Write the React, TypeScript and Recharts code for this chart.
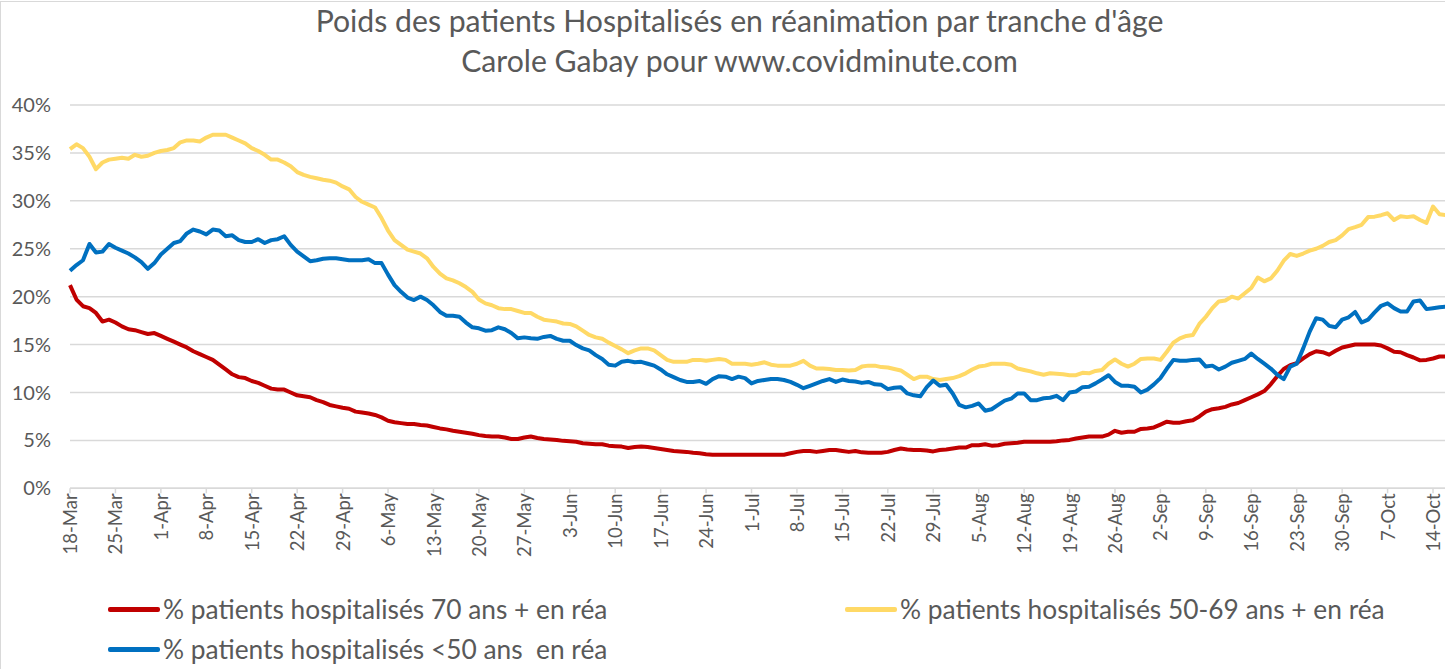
import React from 'react';
import { LineChart, Line, XAxis, YAxis, CartesianGrid, Legend } from 'recharts';

const MONTHS = ['Jan', 'Feb', 'Mar', 'Apr', 'May', 'Jun', 'Jul', 'Aug', 'Sep', 'Oct', 'Nov', 'Dec'];
const DAY_COUNT = 213; // 18-Mar .. 16-Oct

function makeDateLabels(): string[] {
  const out: string[] = [];
  const start = Date.UTC(2020, 2, 18);
  for (let i = 0; i < DAY_COUNT; i++) {
    const d = new Date(start + i * 86400000);
    out.push(`${d.getUTCDate()}-${MONTHS[d.getUTCMonth()]}`);
  }
  return out;
}
const dates = makeDateLabels();

const yTicks = [0, 5, 10, 15, 20, 25, 30, 35, 40];

const seriesNames = [
  '% patients hospitalisés 70 ans + en réa',
  '% patients hospitalisés 50-69 ans + en réa',
  '% patients hospitalisés <50 ans  en réa',
];

// % des patients en réa, 70 ans et +
const share70plus = [
  21.2, 19.7, 19.0, 18.8, 18.3, 17.4, 17.6, 17.3, 16.9, 16.6, 16.5, 16.3, 16.1, 16.2, 15.9, 15.6, 15.3, 15.0, 14.7, 14.3,
  14.0, 13.7, 13.4, 12.9, 12.4, 11.9, 11.6, 11.5, 11.2, 11.0, 10.7, 10.4, 10.3, 10.3, 10.0, 9.7,
  9.6, 9.5, 9.2, 9.0, 8.7, 8.55, 8.4, 8.3, 8.0, 7.9, 7.8, 7.65, 7.4, 7.05, 6.9, 6.8, 6.7, 6.7, 6.6, 6.55,
  6.4, 6.25, 6.15, 6.0, 5.9, 5.8, 5.7, 5.55, 5.45, 5.4, 5.4, 5.3, 5.15, 5.15, 5.3,
  5.4, 5.25, 5.15, 5.1, 5.05, 4.95, 4.9, 4.85, 4.7, 4.65, 4.6, 4.6, 4.45, 4.4, 4.35, 4.2, 4.3, 4.35, 4.3, 4.2,
  4.1, 4.0, 3.9, 3.85, 3.8, 3.7, 3.65, 3.55, 3.5, 3.5, 3.5, 3.5, 3.5, 3.5, 3.5, 3.5,
  3.5, 3.5, 3.5, 3.5, 3.65, 3.8, 3.9, 3.9, 3.8, 3.9, 4.0, 4.0, 3.9, 3.8, 3.9, 3.75, 3.7, 3.7, 3.7, 3.8,
  4.0, 4.15, 4.05, 4.0, 4.0, 3.95, 3.85, 4.0, 4.05, 4.15, 4.25, 4.25, 4.5, 4.5, 4.6,
  4.45, 4.5, 4.65, 4.7, 4.75, 4.85, 4.85, 4.85, 4.85, 4.85, 4.9, 5.0, 5.05, 5.2, 5.3, 5.4, 5.4, 5.4, 5.6, 6.0,
  5.8, 5.9, 5.9, 6.2, 6.25, 6.35, 6.65, 6.95, 6.85, 6.85, 7.0, 7.1, 7.5, 8.0, 8.25, 8.35,
  8.5, 8.75, 8.9, 9.2, 9.5, 9.8, 10.15, 10.85, 11.7, 12.45, 12.85, 13.05, 13.55, 14.0, 14.3, 14.2, 13.95, 14.35,
  14.7, 14.85, 15.0, 15.0, 15.0, 15.0, 14.9, 14.6, 14.25, 14.2, 13.9, 13.65, 13.35, 13.4, 13.55, 13.75, 13.75,
];

// % des patients en réa, 50-69 ans
const share50to69 = [
  35.4, 35.9, 35.5, 34.6, 33.3, 34.0, 34.3, 34.4, 34.5, 34.4, 34.8, 34.6, 34.7, 35.0, 35.2, 35.3, 35.5, 36.1, 36.3, 36.3,
  36.2, 36.6, 36.9, 36.9, 36.9, 36.6, 36.3, 36.0, 35.5, 35.2, 34.8, 34.3, 34.3, 34.0, 33.6, 33.0,
  32.7, 32.5, 32.35, 32.2, 32.1, 31.9, 31.5, 31.2, 30.4, 29.9, 29.6, 29.3, 28.2, 26.9, 25.9, 25.4, 24.9, 24.7, 24.5, 24.0,
  23.1, 22.4, 21.9, 21.7, 21.4, 21.0, 20.5, 19.7, 19.3, 19.1, 18.8, 18.7, 18.7, 18.5, 18.3,
  18.3, 17.9, 17.6, 17.5, 17.4, 17.2, 17.15, 16.9, 16.45, 16.0, 15.75, 15.6, 15.2, 14.85, 14.5, 14.1, 14.4, 14.6, 14.6, 14.4,
  13.9, 13.4, 13.2, 13.2, 13.2, 13.4, 13.4, 13.3, 13.4, 13.5, 13.4, 13.0, 13.0, 13.0, 12.9, 13.0,
  13.15, 12.9, 12.8, 12.8, 12.8, 13.0, 13.3, 12.8, 12.5, 12.5, 12.45, 12.35, 12.35, 12.3, 12.35, 12.7, 12.8, 12.8, 12.65, 12.6,
  12.45, 12.3, 11.85, 11.4, 11.65, 11.65, 11.4, 11.3, 11.4, 11.5, 11.7, 12.0, 12.4, 12.7, 12.8,
  13.0, 13.0, 13.0, 12.9, 12.5, 12.35, 12.2, 12.0, 11.85, 12.0, 11.95, 11.9, 11.8, 11.8, 12.05, 12.0, 12.25, 12.35, 13.0, 13.45,
  13.0, 12.7, 13.0, 13.5, 13.55, 13.55, 13.4, 14.25, 15.2, 15.65, 15.9, 16.0, 17.15, 17.9, 18.8, 19.5,
  19.6, 20.0, 19.8, 20.35, 20.9, 22.0, 21.6, 21.9, 22.7, 23.75, 24.45, 24.25, 24.5, 24.8, 25.0, 25.3, 25.7, 25.9,
  26.4, 27.05, 27.25, 27.5, 28.3, 28.35, 28.5, 28.7, 28.0, 28.4, 28.3, 28.4, 28.0, 27.7, 29.4, 28.6, 28.5,
];

// % des patients en réa, moins de 50 ans
const shareUnder50 = [
  22.7, 23.3, 23.8, 25.5, 24.6, 24.7, 25.5, 25.1, 24.8, 24.5, 24.1, 23.6, 22.9, 23.5, 24.4, 25.0, 25.6, 25.8, 26.6, 27.0,
  26.8, 26.5, 27.0, 26.9, 26.3, 26.4, 25.9, 25.7, 25.7, 26.0, 25.6, 25.9, 26.0, 26.3, 25.4, 24.7,
  24.2, 23.7, 23.8, 23.95, 24.0, 24.0, 23.9, 23.8, 23.8, 23.8, 23.9, 23.5, 23.5, 22.3, 21.2, 20.5, 19.9, 19.65, 20.0, 19.65,
  19.1, 18.4, 18.0, 18.0, 17.9, 17.3, 16.8, 16.7, 16.45, 16.5, 16.8, 16.6, 16.2, 15.65, 15.75,
  15.65, 15.6, 15.8, 15.9, 15.6, 15.4, 15.4, 14.95, 14.6, 14.4, 13.9, 13.5, 12.9, 12.8, 13.2, 13.3, 13.15, 13.2, 13.0, 12.8,
  12.4, 11.9, 11.6, 11.3, 11.1, 11.1, 11.2, 10.9, 11.4, 11.7, 11.65, 11.4, 11.65, 11.5, 10.95, 11.2,
  11.3, 11.4, 11.4, 11.3, 11.1, 10.8, 10.45, 10.7, 10.95, 11.2, 11.4, 11.1, 11.35, 11.2, 11.15, 11.0, 11.1, 10.85, 10.8, 10.35,
  10.5, 10.55, 9.9, 9.7, 9.6, 10.55, 11.25, 10.7, 10.8, 9.9, 8.7, 8.45, 8.6, 8.85, 8.1,
  8.25, 8.7, 9.15, 9.35, 9.9, 9.9, 9.2, 9.2, 9.4, 9.45, 9.65, 9.2, 10.0, 10.1, 10.55, 10.6, 10.95, 11.35, 11.8, 11.1,
  10.7, 10.7, 10.6, 10.0, 10.3, 10.85, 11.5, 12.5, 13.4, 13.3, 13.3, 13.4, 13.45, 12.7, 12.8, 12.4,
  12.7, 13.1, 13.3, 13.5, 14.05, 13.5, 13.0, 12.5, 11.85, 11.4, 12.7, 13.0, 14.6, 16.35, 17.75, 17.6, 16.95, 16.8,
  17.6, 17.85, 18.4, 17.3, 17.6, 18.35, 19.05, 19.3, 18.8, 18.45, 18.45, 19.5, 19.6, 18.7, 18.8, 18.9, 18.95,
];

const data = dates.map((date, i) => ({
  date,
  r70: share70plus[i],
  r50: share50to69[i],
  r0: shareUnder50[i],
}));

const TEXT_COLOR = '#595959';
const GRID_COLOR = '#D9D9D9';

const DateTick = (props: any) => {
  const { x, y, payload } = props;
  return (
    <g transform={`translate(${x},${y})`}>
      <text
        transform="rotate(-90)"
        x={0}
        y={0}
        dy="0.38em"
        textAnchor="end"
        fill={TEXT_COLOR}
        fontSize={18.5}
        fontFamily="Lato, sans-serif"
      >
        {payload.value}
      </text>
    </g>
  );
};

const LEGEND_SLOTS: Record<string, { left: number; top: number }> = {
  r70: { left: 108, top: 24 },
  r50: { left: 845, top: 24 },
  r0: { left: 108, top: 64 },
};

const LegendBox = (props: any) => {
  const payload = props.payload || [];
  return (
    <div style={{ position: 'relative', width: 1445, height: 84 }}>
      {payload.map((item: any, i: number) => {
        const slot = LEGEND_SLOTS[String(item.dataKey)] || LEGEND_SLOTS.r70;
        return (
          <div
            key={i}
            style={{
              position: 'absolute',
              left: slot.left,
              top: slot.top - 18,
              height: 36,
              display: 'flex',
              alignItems: 'center',
              whiteSpace: 'pre',
            }}
          >
            <span style={{ display: 'inline-block', width: 52, height: 5, background: item.color, borderRadius: 2 }} />
            <span style={{ marginLeft: 3, fontSize: 26.3, color: TEXT_COLOR, fontFamily: 'Lato, sans-serif' }}>
              {item.value}
            </span>
          </div>
        );
      })}
    </div>
  );
};

export default function App() {
  return (
    <div
      style={{
        position: 'relative',
        width: 1445,
        height: 669,
        overflow: 'hidden',
        background: '#ffffff',
        fontFamily: 'Lato, sans-serif',
      }}
    >
      <style>{'body{margin:0;overflow:hidden;}'}</style>
      <div
        style={{
          position: 'absolute',
          left: 0,
          top: 1,
          width: 1445,
          height: 668,
          borderLeft: `1px solid ${GRID_COLOR}`,
          borderTop: `1px solid ${GRID_COLOR}`,
          boxSizing: 'border-box',
          pointerEvents: 'none',
        }}
      />
      <div
        style={{
          position: 'absolute',
          left: 0,
          top: 0,
          width: 1479,
          textAlign: 'center',
          color: TEXT_COLOR,
          fontSize: 30.2,
          lineHeight: '40px',
          zIndex: 2,
        }}
      >
        <div>Poids des patients Hospitalisés en réanimation par tranche d'âge</div>
        <div>Carole Gabay pour www.covidminute.com</div>
      </div>
      <LineChart
        width={1456}
        height={669}
        data={data}
        margin={{ top: 105, right: 10, bottom: 100.7, left: 0 }}
      >
        <CartesianGrid horizontal vertical={false} stroke={GRID_COLOR} strokeWidth={1.5} />
        <XAxis
          dataKey="date"
          interval={6}
          height={80}
          axisLine={{ stroke: GRID_COLOR, strokeWidth: 1.5 }}
          tickLine={{ stroke: GRID_COLOR, strokeWidth: 1.5 }}
          tickSize={5}
          tickMargin={0}
          tick={<DateTick />}
        />
        <YAxis
          type="number"
          domain={[0, 40]}
          ticks={yTicks}
          width={70}
          axisLine={false}
          tickLine={false}
          tickSize={0}
          tickMargin={19}
          tickFormatter={(v: number) => `${v}%`}
          tick={{ fill: TEXT_COLOR, fontSize: 20, fontFamily: 'Lato, sans-serif' }}
        />
        <Legend
          verticalAlign="middle"
          align="center"
          layout="horizontal"
          wrapperStyle={{ top: 585, left: 0, width: 1445, height: 84 }}
          content={<LegendBox />}
        />
        <Line
          type="linear"
          dataKey="r70"
          name={seriesNames[0]}
          stroke="#C00000"
          strokeWidth={4}
          strokeLinejoin="round"
          dot={false}
          isAnimationActive={false}
        />
        <Line
          type="linear"
          dataKey="r50"
          name={seriesNames[1]}
          stroke="#FFD966"
          strokeWidth={4}
          strokeLinejoin="round"
          dot={false}
          isAnimationActive={false}
        />
        <Line
          type="linear"
          dataKey="r0"
          name={seriesNames[2]}
          stroke="#0070C0"
          strokeWidth={4}
          strokeLinejoin="round"
          dot={false}
          isAnimationActive={false}
        />
      </LineChart>
    </div>
  );
}
